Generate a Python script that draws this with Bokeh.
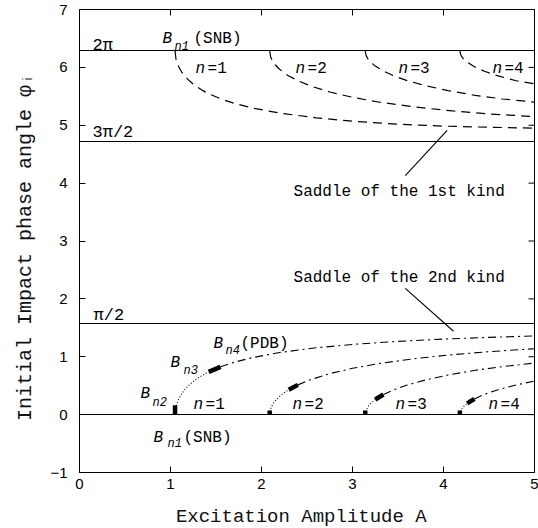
import numpy as np
from bokeh.plotting import figure
from bokeh.models import Label, LinearAxis, FixedTicker, Range1d
from bokeh.embed import file_html
from bokeh.resources import INLINE

# ---- data -------------------------------------------------------------
# amplitude at which the n-th node/saddle pair is born (SNB, phi = 0 / 2pi)
birth_amp = [1.05, 2.09, 3.14, 4.18]

# reference phase levels: 2pi, 3pi/2, pi/2, 0
level_phi = [6.283, 4.712, 1.571, 0.0]
level_txt = ["2π", "3π/2", "π/2"]

# n = 1 branch
amp_1 = [1.05, 1.06, 1.07, 1.09, 1.12, 1.16, 1.21, 1.28, 1.35, 1.42, 1.55,
         1.70, 1.90, 2.20, 2.60, 3.00, 3.50, 4.00, 4.50, 5.00]
node_1 = [0.0, 0.137, 0.194, 0.272, 0.355, 0.439, 0.520, 0.609, 0.680, 0.738,
          0.826, 0.905, 0.985, 1.073, 1.155, 1.213, 1.266, 1.305, 1.335, 1.359]
saddle_1 = [6.283, 6.146, 6.089, 6.011, 5.928, 5.844, 5.763, 5.674, 5.603,
            5.545, 5.457, 5.378, 5.298, 5.210, 5.128, 5.070, 5.017, 4.985,
            4.965, 4.950]

# n = 2 branch
amp_2 = [2.09, 2.10, 2.12, 2.15, 2.19, 2.24, 2.30, 2.40, 2.55, 2.75, 3.00,
         3.30, 3.70, 4.10, 4.50, 5.00]
node_2 = [0.0, 0.098, 0.168, 0.237, 0.303, 0.368, 0.431, 0.514, 0.610, 0.708,
          0.800, 0.885, 0.970, 1.036, 1.088, 1.139]
saddle_2 = [6.283, 6.185, 6.115, 6.046, 5.980, 5.915, 5.852, 5.769, 5.673,
            5.575, 5.483, 5.398, 5.313, 5.247, 5.195, 5.150]

# n = 3 branch
amp_3 = [3.14, 3.15, 3.17, 3.20, 3.25, 3.34, 3.45, 3.60, 3.80, 4.05, 4.35,
         4.65, 5.00]
node_3 = [0.0, 0.080, 0.138, 0.194, 0.261, 0.348, 0.427, 0.511, 0.598, 0.684,
          0.767, 0.829, 0.892]
saddle_3 = [6.283, 6.203, 6.145, 6.089, 6.022, 5.935, 5.856, 5.772, 5.685,
            5.599, 5.516, 5.454, 5.400]

# n = 4 branch
amp_4 = [4.18, 4.19, 4.21, 4.23, 4.26, 4.34, 4.45, 4.60, 4.80, 5.00]
node_4 = [0.0, 0.069, 0.119, 0.154, 0.194, 0.272, 0.350, 0.431, 0.514, 0.581]
saddle_4 = [6.283, 6.214, 6.164, 6.129, 6.089, 6.011, 5.933, 5.852, 5.769,
            5.715]

# stretch of each node branch between B_n3 and B_n4 (PDB)
bn3_start = [1.42, 2.30, 3.25, 4.26]
bn3_end = [1.55, 2.40, 3.34, 4.34]
# height of the B_n2 mark just above the SNB point
bn2_top = [0.16, 0.07, 0.07, 0.07]

branches = [(amp_1, node_1, saddle_1), (amp_2, node_2, saddle_2),
            (amp_3, node_3, saddle_3), (amp_4, node_4, saddle_4)]

x_ticks = [0, 1, 2, 3, 4, 5]
y_ticks = [-1, 0, 1, 2, 3, 4, 5, 6, 7]
X_MIN, X_MAX = 0, 5
Y_MIN, Y_MAX = -1, 7

# ---- figure -----------------------------------------------------------
FONT = "Liberation Mono"
p = figure(frame_width=455, frame_height=463,
           x_range=Range1d(X_MIN, X_MAX), y_range=Range1d(Y_MIN, Y_MAX),
           output_backend="svg", toolbar_location=None, title_location=None,
           x_axis_location=None, y_axis_location=None,
           min_border_left=79, min_border_right=4,
           min_border_top=9, min_border_bottom=56)
p.xgrid.visible = False
p.ygrid.visible = False
p.outline_line_color = "black"
p.outline_line_width = 1
p.background_fill_color = "white"
p.border_fill_color = "white"


def make_axis(ticks, standoff, title, title_standoff):
    ax = LinearAxis(ticker=FixedTicker(ticks=ticks))
    ax.major_tick_in = 6
    ax.major_tick_out = 0
    ax.minor_tick_line_color = None
    ax.axis_line_color = "black"
    ax.major_tick_line_color = "black"
    ax.major_label_text_font = "Liberation Sans"
    ax.major_label_text_font_size = "15px"
    ax.major_label_text_color = "black"
    ax.major_label_standoff = standoff
    ax.axis_label = title
    ax.axis_label_text_font = FONT
    ax.axis_label_text_font_style = "normal"
    ax.axis_label_text_color = "#111111"
    ax.axis_label_standoff = title_standoff
    return ax


xax = make_axis(x_ticks, 6, "Excitation Amplitude  A", 14)
xax.axis_label_text_font_size = "19px"
yax = make_axis(y_ticks, 12, "Initial Impact phase angle  φᵢ", 10)
yax.axis_label_text_font_size = "20px"
p.add_layout(xax, "below")
p.add_layout(yax, "left")

# inward ticks along the top and right edges of the frame
p.scatter(x=x_ticks, y=[Y_MAX] * len(x_ticks), marker="dash", size=12,
          angle=np.pi / 2, line_color="black", line_width=1)
p.scatter(x=[X_MAX] * len(y_ticks), y=y_ticks, marker="dash", size=12,
          line_color="black", line_width=1)

# reference phase levels
p.hspan(y=level_phi, line_color="black", line_width=1.2)

for k, (amp, node, saddle) in enumerate(branches):
    a = np.array(amp)
    f = np.array(node)
    # saddle of the 1st kind: dashed
    p.line(amp, saddle, line_color="black", line_width=1.2, line_dash="9 6")
    # node branch: dotted up to B_n3, thick B_n3-B_n4, dash-dot beyond
    m1 = a <= bn3_start[k]
    m2 = (a >= bn3_start[k]) & (a <= bn3_end[k])
    m3 = a >= bn3_end[k]
    p.line(a[m1], f[m1], line_color="black", line_width=1.1, line_dash="1 2")
    p.line(a[m2], f[m2], line_color="black", line_width=4.5, line_cap="butt")
    p.line(a[m3], f[m3], line_color="black", line_width=1.1,
           line_dash="8 4 2 4")
    # B_n2 mark at the SNB point
    p.segment(x0=[birth_amp[k]], y0=[0.0], x1=[birth_amp[k]],
              y1=[bn2_top[k]], line_color="black", line_width=4.5,
              line_cap="butt")

# leader lines from the saddle captions
leader_x0 = [3.58, 3.58]
leader_y0 = [4.13, 2.18]
leader_x1 = [4.04, 4.11]
leader_y1 = [4.91, 1.44]
p.segment(x0=leader_x0, y0=leader_y0, x1=leader_x1, y1=leader_y1,
          line_color="black", line_width=1.1)


def put(x, y, text, size=16, style="normal"):
    p.add_layout(Label(x=x, y=y, text=text, text_font=FONT,
                       text_font_size=f"{size}px", text_font_style=style,
                       text_color="black", text_align="left",
                       text_baseline="alphabetic"))


# level captions
put(0.143, 6.375, level_txt[0], 17)
put(0.143, 4.872, level_txt[1], 17)
put(0.154, 1.712, level_txt[2], 17)

# B_n1 (SNB) on the upper line
put(0.912, 6.496, "B", 16, "italic")
put(1.044, 6.360, "n1", 12, "italic")
put(1.253, 6.496, "(SNB)", 16)

# branch numbers
top_n_x = [1.275, 2.374, 3.505, 4.538]
low_n_x = [1.253, 2.341, 3.473, 4.495]
for k in range(4):
    put(top_n_x[k], 5.978, "n", 16, "italic")
    put(top_n_x[k] + 0.132, 5.978, f"={k + 1}", 16)
    put(low_n_x[k], 0.170, "n", 16, "italic")
    put(low_n_x[k] + 0.132, 0.170, f"={k + 1}", 16)

# bifurcation points on the first node branch
put(0.670, 0.364, "B", 16, "italic")
put(0.802, 0.209, "n2", 12, "italic")
put(1.000, 0.900, "B", 16, "italic")
put(1.143, 0.762, "n3", 12, "italic")
put(1.473, 1.228, "B", 16, "italic")
put(1.605, 1.107, "n4", 12, "italic")
put(1.769, 1.228, "(PDB)", 16)
put(0.813, -0.396, "B", 16, "italic")
put(0.967, -0.516, "n1", 12, "italic")
put(1.143, -0.396, "(SNB)", 16)

# saddle captions
put(2.352, 3.853, "Saddle of the 1st kind", 16)
put(2.352, 2.368, "Saddle of the 2nd kind", 16)

open("out.html", "w").write(file_html(p, INLINE))
